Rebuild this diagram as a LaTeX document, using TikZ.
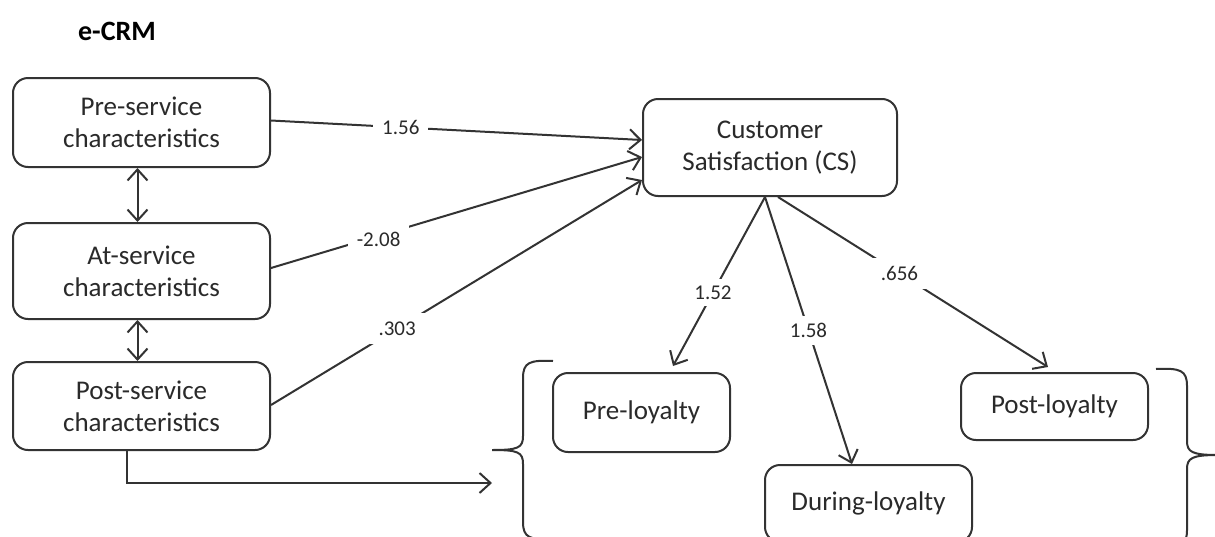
\documentclass[tikz,border=0pt]{standalone}
\usepackage{fontspec}
\setmainfont{Carlito}
\usetikzlibrary{arrows.meta,calc}
\definecolor{ln}{HTML}{333333}
\definecolor{tx}{HTML}{2A2A2A}
\tikzset{
  box/.style={draw=ln, line width=2pt, rounded corners=15pt, align=center, text=tx,
    font=\fontsize{27}{32}\selectfont, inner sep=0pt},
  conn/.style={draw=ln, line width=2pt},
  arr/.style={conn, -{Straight Barb[length=11pt,width=20pt,line width=2pt]}},
  darr/.style={conn, {Straight Barb[length=11pt,width=20pt,line width=2pt]}-{Straight Barb[length=11pt,width=20pt,line width=2pt]}},
  lbl/.style={fill=white, text=tx, font=\fontsize{21}{24}\selectfont, inner sep=9pt},
  brace/.style={draw=ln, line width=2pt}
}
\begin{document}
\begin{tikzpicture}[x=1pt,y=-1pt]
\clip (0,0) rectangle (1215,536);
\fill[white] (0,0) rectangle (1215,536);

\node[text=black, font=\fontsize{28}{32}\selectfont\bfseries] (title) at (117,31) {e-CRM};

\node[box, minimum width=257pt, minimum height=89pt] (pre) at (141.5,122.5) {Pre-service\\characteristics};
\node[box, minimum width=257pt, minimum height=96pt] (at) at (141.5,271) {At-service\\characteristics};
\node[box, minimum width=257pt, minimum height=88pt] (post) at (141.5,406) {Post-service\\characteristics};
\node[box, minimum width=254pt, minimum height=97pt] (cs) at (770,147.5) {Customer\\Satisfaction (CS)};
\node[box, minimum width=177pt, minimum height=79pt] (preL) at (641.5,412.5) {Pre-loyalty};
\node[box, minimum width=187pt, minimum height=67pt] (postL) at (1054.5,406.5) {Post-loyalty};
\node[box, minimum width=207pt, minimum height=77pt] (durL) at (868.5,503.5) {During-loyalty};

% double arrows between service boxes
\draw[darr] ([xshift=-4pt]pre.south) -- ([xshift=-4pt]at.north);
\draw[darr] ([xshift=-4pt]at.south) -- ([xshift=-4pt]post.north);

% arrows into CS
\draw[arr] ([yshift=2pt]pre.east) -- node[lbl, pos=0.35] {1.56} ([yshift=7.5pt]cs.west);
\draw[arr] ([yshift=3pt]at.east) -- node[lbl, pos=0.29, yshift=-4pt] {-2.08} ([yshift=-9.5pt]cs.west);
\draw[arr] ([yshift=1pt]post.east) -- node[lbl, pos=0.34] {.303} ([yshift=-32.5pt]cs.west);

% arrows out of CS
\coordinate (preLt) at ($(preL.north)+(31.5,-6)$);
\coordinate (postLt) at ($(postL.north)+(-6.5,-5)$);
\draw[arr] ([xshift=-5pt]cs.south) -- node[lbl, pos=0.565, inner sep=7pt] {1.52} (preLt);
\draw[arr] ([xshift=-5pt]cs.south) -- node[lbl, pos=0.5, inner sep=7pt] {1.58} ([xshift=-16.5pt]durL.north);
\draw[arr] ([xshift=8pt]cs.south) -- node[lbl, pos=0.45, inner sep=8pt] {.656} (postLt);

% post-service to brace
\coordinate (lbr) at (492,483);
\draw[arr] ([xshift=-14.5pt]post.south) |- (lbr);

% left brace
\draw[brace] (553,361) .. controls (530,360) and (523,362) .. (523,378)
  -- (523,436) .. controls (523,448) and (518,450) .. (492,450)
  .. controls (518,450) and (523,452) .. (523,464)
  -- (523,522) .. controls (523,538) and (530,540) .. (553,539);
% right brace
\draw[brace] (1156,369) .. controls (1180,368) and (1187,370) .. (1187,386)
  -- (1187,441) .. controls (1187,452) and (1192,455) .. (1218,455)
  .. controls (1192,455) and (1187,458) .. (1187,469)
  -- (1187,530) .. controls (1187,546) and (1180,548) .. (1156,547);
\end{tikzpicture}
\end{document}
